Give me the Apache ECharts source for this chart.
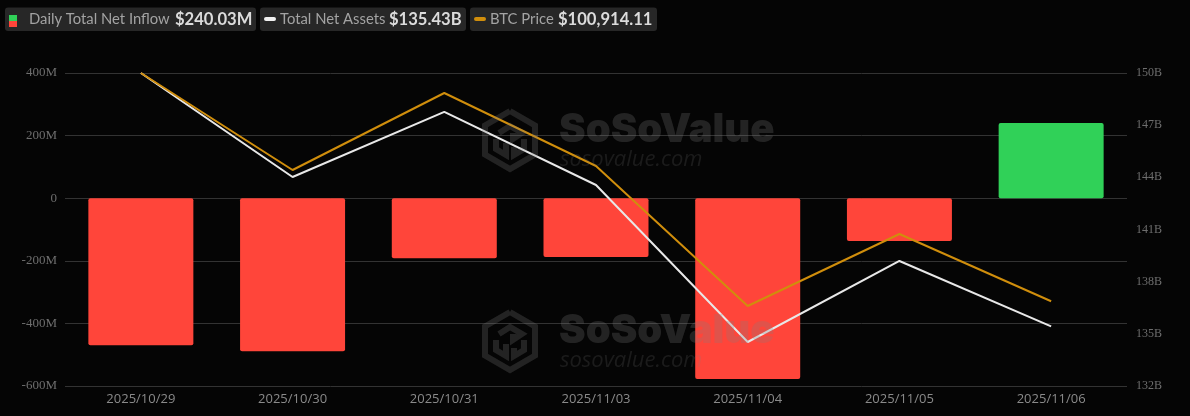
<!DOCTYPE html>
<html>
<head>
<meta charset="utf-8">
<style>
html,body{margin:0;padding:0;background:#050505;}
#main{width:1190px;height:416px;}
</style>
<script src="https://cdn.jsdelivr.net/npm/echarts@6/dist/echarts.min.js"></script>
</head>
<body>
<div id="main"></div>
<script>
var dates = ['2025/10/29', '2025/10/30', '2025/10/31', '2025/11/03', '2025/11/04', '2025/11/05', '2025/11/06'];
var netInflow = [-470, -489, -192, -188, -578, -137, 240.03];       // M
var netAssets = [150, 144.02, 147.76, 143.56, 134.53, 139.19, 135.43];    // B
var btcPrice = [112000, 107289, 111028, 107484, 100685, 104181, 100914.11];

var RED = '#ff453a', GREEN = '#30d158', ORANGE = '#d08e0c', WHITE = '#e8e8e8';

var myChart = echarts.init(document.getElementById('main'));

// legend chip: background, then label and value next to each other
function chip(x, w, labelX, label, valueX, value) {
    return [
        { type: 'rect', shape: { x: x, y: 7.5, width: w, height: 23.5, r: 3 }, style: { fill: '#272727' }, z: 20 },
        { type: 'text', x: labelX, y: 19.5, style: { text: label, fill: '#a3a3a3', font: '14.8px Lato', verticalAlign: 'middle' }, z: 21 },
        { type: 'text', x: valueX, y: 19.5, style: { text: value, fill: '#dcdcdc', font: 'bold 16.6px Lato', verticalAlign: 'middle' }, z: 21 }
    ];
}

// faint logo and site name, drawn twice, on top of the bars
var LOGO_PARTS = [
    [[510, 111], [535, 125.5], [535, 154.5], [510, 169], [485, 154.5], [485, 125.5], [510, 111]],
    [[499, 133], [510, 126], [522, 133], [513, 139], [513, 133]],
    [[496, 139], [496, 149], [506, 155], [506, 143]],
    [[524, 139], [524, 149], [514, 155], [514, 147]]
];
function watermark(dy) {
    var c = 'rgba(128,128,128,0.25)';
    var els = LOGO_PARTS.map(function (pts) {
        return { type: 'polyline', x: 0, y: dy, shape: { points: pts }, style: { fill: null, stroke: c, lineWidth: 6 }, z: 10 };
    });
    els.push({ type: 'text', x: 559, y: 130 + dy, style: { text: 'SoSoValue', fill: c, font: '900 40px Inter', verticalAlign: 'middle' }, z: 10 });
    els.push({ type: 'text', x: 560, y: 160 + dy, style: { text: 'sosovalue.com', fill: 'rgba(128,128,128,0.18)', font: 'italic 22px "Open Sans"', verticalAlign: 'middle' }, z: 10 });
    return els;
}

var elements = []
    .concat(chip(5, 251, 29, 'Daily Total Net Inflow', 175, '$240.03M'))
    .concat(chip(260, 206, 280, 'Total Net Assets', 389, '$135.43B'))
    .concat(chip(470, 187, 490, 'BTC Price', 558, '$100,914.11'))
    .concat([
        { type: 'rect', shape: { x: 9, y: 15, width: 8, height: 6 }, style: { fill: GREEN }, z: 21 },
        { type: 'rect', shape: { x: 9, y: 21, width: 8, height: 6 }, style: { fill: RED }, z: 21 },
        { type: 'rect', shape: { x: 264, y: 17, width: 12, height: 4, r: 2 }, style: { fill: '#f0f0f0' }, z: 21 },
        { type: 'rect', shape: { x: 474, y: 17, width: 12, height: 4, r: 2 }, style: { fill: ORANGE }, z: 21 }
    ])
    .concat(watermark(0))
    .concat(watermark(201));

var option = {
    animation: false,
    backgroundColor: '#050505',
    graphic: { elements: elements },
    grid: { left: 65, right: 63, top: 73, bottom: 30, containLabel: false },
    xAxis: {
        type: 'category',
        data: dates,
        axisLine: { show: false },
        axisTick: { show: false },
        axisLabel: { color: '#8a8a8a', fontSize: 13, fontFamily: 'Open Sans', margin: 7, interval: 0 }
    },
    yAxis: [
        {
            type: 'value', min: -600, max: 400, interval: 200,
            axisLine: { show: false }, axisTick: { show: false },
            splitLine: { lineStyle: { color: '#333333', width: 1 } },
            axisLabel: { color: '#6e6e6e', fontSize: 13, fontFamily: 'Liberation Serif', margin: 8, formatter: function (v) { return v === 0 ? '0' : v + 'M'; } }
        },
        {
            type: 'value', min: 132, max: 150, interval: 3, position: 'right',
            axisLine: { show: false }, axisTick: { show: false }, splitLine: { show: false },
            axisLabel: { color: '#6e6e6e', fontSize: 12, fontFamily: 'Liberation Serif', margin: 9, formatter: '{value}B' }
        },
        { type: 'value', min: 96800, max: 112000, show: false, splitLine: { show: false } }
    ],
    series: [
        {
            name: 'Daily Total Net Inflow',
            type: 'bar',
            barWidth: 105,
            data: netInflow,
            itemStyle: {
                borderRadius: 2,
                color: function (p) { return p.value < 0 ? RED : GREEN; }
            },
            z: 2
        },
        {
            name: 'Total Net Assets',
            type: 'line',
            yAxisIndex: 1,
            data: netAssets,
            symbol: 'none',
            lineStyle: { color: WHITE, width: 2 },
            z: 3
        },
        {
            name: 'BTC Price',
            type: 'line',
            yAxisIndex: 2,
            data: btcPrice,
            symbol: 'none',
            lineStyle: { color: ORANGE, width: 2 },
            z: 4
        }
    ]
};
myChart.setOption(option);
</script>
</body>
</html>
